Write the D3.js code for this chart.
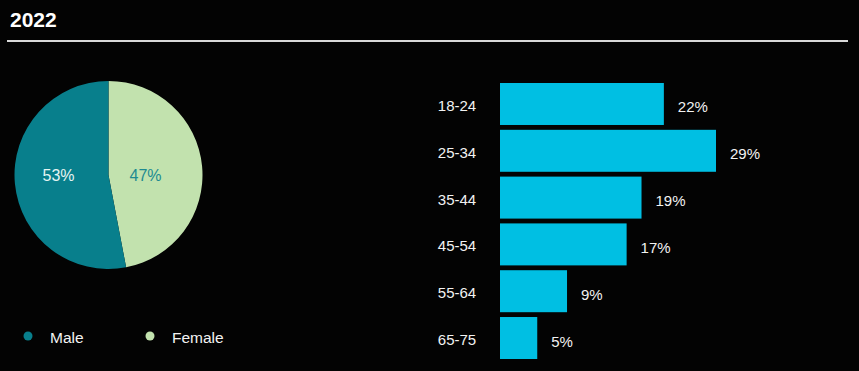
<!DOCTYPE html>
<html>
<head>
<meta charset="utf-8">
<script src="https://cdn.jsdelivr.net/npm/d3@7"></script>
<style>
  body { margin: 0; background: #000; }
  svg { display: block; font-family: Arial, "Liberation Sans", sans-serif; }
</style>
</head>
<body>
<div id="chart-area"></div>
<script>
// data
var title = "2022";
var genders = ["Female", "Male"];
var genderShare = [47, 53];
var legendOrder = ["Male", "Female"];
var ageGroups = ["18-24", "25-34", "35-44", "45-54", "55-64", "65-75"];
var ageShare = [22, 29, 19, 17, 9, 5];

var genderColor = d3.scaleOrdinal()
    .domain(["Male", "Female"])
    .range(["#087f8c", "#c2e2ae"]);

var svg = d3.select("#chart-area").append("svg")
    .attr("width", 859)
    .attr("height", 371);

svg.append("rect")
    .attr("width", 859)
    .attr("height", 371)
    .attr("fill", "#030303");

// header
svg.append("text")
    .attr("x", 10)
    .attr("y", 27)
    .attr("fill", "#fff")
    .attr("font-size", 21)
    .attr("font-weight", "bold")
    .text(title);

svg.append("line")
    .attr("x1", 7).attr("x2", 848)
    .attr("y1", 41).attr("y2", 41)
    .attr("stroke", "#d9d9d9")
    .attr("stroke-width", 2);

// pie
var pieData = genders.map((g, i) => ({ name: g, value: genderShare[i] }));
var pie = d3.pie().sort(null).value(d => d.value);
var radius = 94;
var arc = d3.arc().innerRadius(0).outerRadius(radius);

var pieG = svg.append("g").attr("transform", "translate(108.5,175)");

var slices = pieG.selectAll("g").data(pie(pieData)).enter().append("g");
slices.append("path")
    .attr("d", arc)
    .attr("fill", d => genderColor(d.data.name));

slices.append("text")
    .attr("x", d => d.data.name == "Male" ? -50 : 37)
    .attr("y", 6)
    .attr("text-anchor", "middle")
    .attr("font-size", 16)
    .attr("fill", d => d.data.name == "Male" ? "#e6f4f2" : "#1d8a91")
    .text(d => d.data.value + "%");

// legend
var legend = svg.selectAll(".legend").data(legendOrder).enter().append("g")
    .attr("class", "legend")
    .attr("transform", (d, i) => "translate(" + (28 + i * 122) + ",336)");

legend.append("circle")
    .attr("r", 4.5)
    .attr("fill", d => genderColor(d));

legend.append("text")
    .attr("x", 22)
    .attr("y", 7)
    .attr("fill", "#f2f2f2")
    .attr("font-size", 15.5)
    .text(d => d);

// bars
var x = d3.scaleLinear().domain([0, 29]).range([0, 216]);
var y = d3.scaleBand().domain(ageGroups).range([83, 359]).paddingInner(0.103).paddingOuter(0);
var barLeft = 500;

var bars = svg.selectAll(".bar").data(ageGroups).enter().append("g").attr("class", "bar");

bars.append("rect")
    .attr("x", barLeft)
    .attr("y", d => y(d))
    .attr("width", (d, i) => x(ageShare[i]))
    .attr("height", y.bandwidth())
    .attr("fill", "#00bfe3");

bars.append("text")
    .attr("x", 457)
    .attr("y", d => y(d) + y.bandwidth() / 2 + 7)
    .attr("text-anchor", "middle")
    .attr("fill", "#f2f2f2")
    .attr("font-size", 15)
    .text(d => d);

bars.append("text")
    .attr("x", (d, i) => barLeft + x(ageShare[i]) + 14)
    .attr("y", d => y(d) + y.bandwidth() / 2 + 8.5)
    .attr("fill", "#f2f2f2")
    .attr("font-size", 15)
    .text((d, i) => ageShare[i] + "%");
</script>
</body>
</html>
